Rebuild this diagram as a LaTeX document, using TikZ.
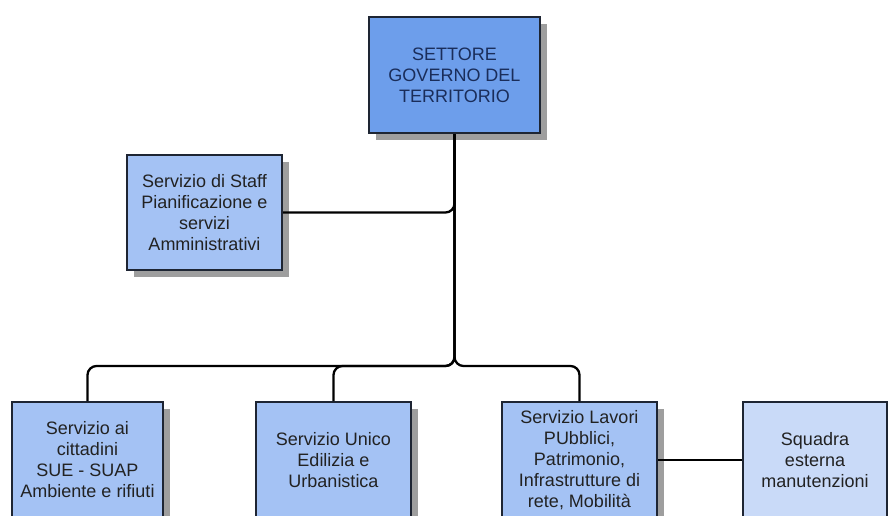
\documentclass[tikz,border=0pt]{standalone}
\usepackage{fontspec}
\setmainfont{Liberation Sans}
\usetikzlibrary{shadows}
\definecolor{headfill}{HTML}{6D9EEB}
\definecolor{unitfill}{HTML}{A4C2F4}
\definecolor{teamfill}{HTML}{C9DAF8}
\definecolor{boxline}{HTML}{1E2533}
\definecolor{headtext}{HTML}{1A2D5A}
\definecolor{unittext}{HTML}{222222}
\tikzset{
  orgbox/.style={draw=boxline, line width=2pt, align=center, inner sep=2pt,
    font=\fontsize{18}{21}\selectfont, text=unittext,
    drop shadow={shadow xshift=7pt, shadow yshift=-7pt, fill=black!38, opacity=1}},
  headbox/.style={orgbox, fill=headfill, text=headtext},
  unitbox/.style={orgbox, fill=unitfill},
  teambox/.style={orgbox, fill=teamfill},
  link/.style={line width=2.3pt, black, rounded corners=9pt}
}
\begin{document}
\begin{tikzpicture}[x=1pt, y=-1pt]
  \useasboundingbox (0,0) rectangle (888,516);
  \clip (0,0) rectangle (888,516);
  \fill[white] (0,0) rectangle (888,516);

  % boxes
  \node[headbox, minimum width=171pt, minimum height=116pt] (top) at (454.5,75)
    {SETTORE\\GOVERNO DEL\\TERRITORIO};
  \node[unitbox, minimum width=155pt, minimum height=115pt] (staff) at (204.5,212.5)
    {Servizio di Staff\\Pianificazione e\\servizi\\Amministrativi};
  \node[unitbox, minimum width=151pt, minimum height=116pt] (c1) at (87.5,460)
    {Servizio ai\\cittadini\\SUE - SUAP\\Ambiente e rifiuti};
  \node[unitbox, minimum width=155pt, minimum height=116pt] (c2) at (333.5,460)
    {Servizio Unico\\Edilizia e\\Urbanistica};
  \node[unitbox, minimum width=155pt, minimum height=116pt] (c3) at (579.5,460)
    {Servizio Lavori\\PUbblici,\\Patrimonio,\\Infrastrutture di\\rete, Mobilità};
  \node[teambox, minimum width=144pt, minimum height=116pt] (c4) at (815,460)
    {Squadra\\esterna\\manutenzioni};

  % connectors: staff branch, trunk with bus to the three services, team link
  \coordinate (bus) at (454.5,366);
  \draw[link] (top.south) |- (staff.east);
  \draw[link] (top.south) -- (bus) -| (c1.north);
  \draw[link] (top.south) -- (bus) -| (c2.north);
  \draw[link] (top.south) -- (bus) -| (c3.north);
  \draw[link] (c3.east) -- (c4.west);
\end{tikzpicture}
\end{document}
